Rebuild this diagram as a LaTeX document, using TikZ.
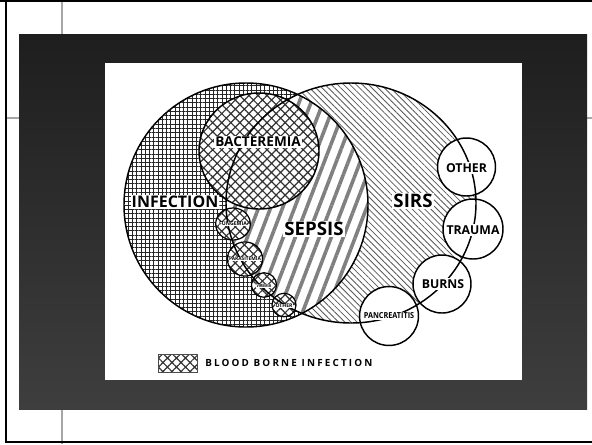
\documentclass[tikz,border=0pt]{standalone}
\usepackage{fontspec}
\setmainfont{Open Sans}
\usetikzlibrary{patterns.meta}
\definecolor{bandtop}{HTML}{1E1E1E}
\definecolor{bandbot}{HTML}{3E3E3E}
\newcommand{\fsz}[1]{\fontsize{#1}{#1}\selectfont\bfseries}
\begin{document}
\begin{tikzpicture}[x=0.75pt,y=-0.75pt,
  outl/.style={draw=black,line width=1.1pt},
  thinoutl/.style={draw=black,line width=0.9pt},
  lbl/.style={fill=white,inner sep=0.8pt,text=black},
  gridpat/.style={pattern={Hatch[angle=0,distance=3.2pt,line width=0.4pt]},pattern color=black!85},
  crosspat/.style={pattern={Hatch[angle=45,distance=4.8pt,line width=0.9pt]},pattern color=black!80},
  sirspat/.style={pattern={Lines[angle=-45,distance=3.3pt,line width=0.6pt]},pattern color=black!65},
  sepspat/.style={pattern={Lines[angle=69,distance=8.4pt,line width=2.7pt]},pattern color=black!50},
]
\useasboundingbox (0,0) rectangle (592,444);
\fill[white] (0,0) rectangle (592,444);
% slide frame
\draw[gray!70,line width=1pt] (62,0) -- (62,444);
\draw[gray!70,line width=1pt] (5,118) -- (592,118);
\draw[black,line width=1.5pt] (0,1) -- (592,1);
\draw[black,line width=1.5pt] (5.5,0) -- (5.5,441.5) -- (592,441.5);
\shade[top color=bandtop,bottom color=bandbot] (19,34) rectangle (587,409);
\fill[white] (105,63) rectangle (522,380);

% SIRS region
\fill[sirspat] (351,203) ellipse [x radius=93.75pt,y radius=90pt];
% infection region
\fill[white] (246,205) circle [radius=91.5pt];
\fill[gridpat] (246,205) circle [radius=91.5pt];
% sepsis region
\begin{scope}
  \clip (246,205) circle [radius=91.5pt];
  \fill[white] (351,203) ellipse [x radius=93.75pt,y radius=90pt];
  \fill[sepspat] (351,203) ellipse [x radius=93.75pt,y radius=90pt];
\end{scope}
% blood borne circles
\foreach \cx/\cy/\rx/\ry in {259/151/45pt/43.5pt, 233/224/13pt/12pt, 245/259/13.2pt/12.8pt, 264/285/9.4pt/9.2pt, 284/305/9pt/8.8pt}{
  \fill[white] (\cx,\cy) ellipse [x radius=\rx,y radius=\ry];
  \fill[crosspat] (\cx,\cy) ellipse [x radius=\rx,y radius=\ry];
}
% right satellites
\foreach \cx/\cy/\r in {466.5/167/21.75pt, 473/229/22.5pt, 442/284/21.75pt, 389/316/22.1pt}{
  \fill[white] (\cx,\cy) circle [radius=\r];
}
% outlines
\draw[outl] (246,205) circle [radius=91.5pt];
\draw[outl] (259,151) ellipse [x radius=45pt,y radius=43.5pt];
\foreach \cx/\cy/\rx/\ry in {233/224/13pt/12pt, 245/259/13.2pt/12.8pt, 264/285/9.4pt/9.2pt, 284/305/9pt/8.8pt}{
  \draw[thinoutl] (\cx,\cy) ellipse [x radius=\rx,y radius=\ry];
}
\foreach \cx/\cy/\r in {466.5/167/21.75pt, 473/229/22.5pt, 442/284/21.75pt, 389/316/22.1pt}{
  \draw[outl] (\cx,\cy) circle [radius=\r];
}
\draw[outl] (351,203) ellipse [x radius=93.75pt,y radius=90pt];

% labels
\node[lbl,font=\fsz{12}] (infection) at (175,202) {INFECTION};
\node[lbl,font=\fsz{10.2}] (bacteremia) at (258,142) {BACTEREMIA};
\node[lbl,font=\fsz{14}] (sepsis) at (314,229) {SEPSIS};
\node[lbl,font=\fsz{14}] (sirs) at (413,201) {SIRS};
\node[lbl,font=\fsz{9.2}] (other) at (466.5,168) {OTHER};
\node[lbl,font=\fsz{9.2}] (trauma) at (473,230) {TRAUMA};
\node[lbl,font=\fsz{9.2}] (burns) at (443,284) {BURNS};
\node[lbl,font=\fsz{6.2},inner sep=0.4pt] (pancreatitis) at (389,316) {\scalebox{0.88}[1]{PANCREATITIS}};
\node[lbl,font=\fsz{3.9},inner sep=0.3pt] (fungemia) at (233,224) {FUNGEMIA};
\node[lbl,font=\fsz{3.6},inner sep=0.3pt] (parasitemia) at (245,259) {PARASITEMIA};
\node[lbl,font=\fsz{3.3},inner sep=0.3pt] (viremia) at (264,286) {\scalebox{0.8}[1]{VIREMIA}};
\node[lbl,font=\fsz{3.8},inner sep=0.3pt] (othersmall) at (284,306) {OTHER};

% legend
\draw[black!70,line width=0.6pt,crosspat] (158,354) rectangle (197,372);
\node[anchor=west,inner sep=0pt,font=\fsz{7.4}\addfontfeatures{LetterSpace=22}] (legend) at (205,363) {BLOOD BORNE INFECTION};
\end{tikzpicture}
\end{document}
